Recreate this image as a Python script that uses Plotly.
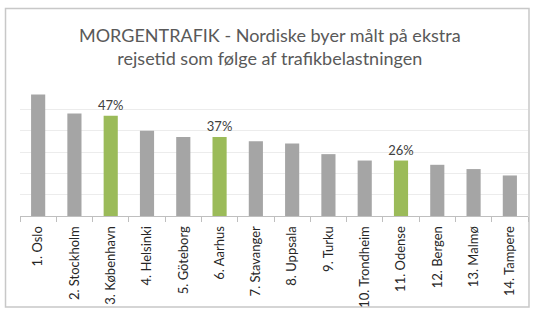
import plotly.graph_objects as go

cities = ["1. Oslo", "2. Stockholm", "3. København", "4. Helsinki", "5. Göteborg",
          "6. Aarhus", "7. Stavanger", "8. Uppsala", "9. Turku", "10. Trondheim",
          "11. Odense", "12. Bergen", "13. Malmø", "14. Tampere"]
values = [57, 48, 47, 40, 37, 37, 35, 34, 29, 26, 26, 24, 22, 19]
danish = [False, False, True, False, False, True, False, False, False, False, True, False, False, False]

GREY = "#a5a5a5"
GREEN = "#9bbb59"

colors = [GREEN if d else GREY for d in danish]
labels = [f"{v}%" if d else "" for v, d in zip(values, danish)]

W, H = 537, 317
L, R, T, B = 20, 8.5, 88, 101
pw, ph = W - L - R, H - T - B

fig = go.Figure(go.Bar(
    x=cities, y=values, marker=dict(color=colors, line=dict(width=0)),
    text=labels, textposition="outside", cliponaxis=False, constraintext="none",
    textfont=dict(family="Lato", size=13, color="#404040"),
    width=0.39, hoverinfo="skip"))

def px_x(p):
    return (p - L) / pw

def px_y(p):
    return (H - B - p) / ph

fig.update_layout(
    width=W, height=H, margin=dict(l=L, r=R, t=T, b=B),
    paper_bgcolor="white", plot_bgcolor="white", showlegend=False,
    annotations=[dict(text="MORGENTRAFIK - Nordiske byer målt på ekstra<br>rejsetid som følge af trafikbelastningen",
                      xref="paper", yref="paper", x=px_x(270), y=px_y(46), xanchor="center",
                      yanchor="middle", showarrow=False, align="center",
                      font=dict(family="Lato", size=18, color="#595959"))],
    xaxis=dict(showline=True, linecolor="#bfbfbf", linewidth=1, ticks="outside",
               tickson="boundaries", ticklen=5, tickcolor="#bfbfbf", tickangle=-90,
               ticklabelstandoff=4,
               tickfont=dict(family="Lato", size=13, color="#262626"), showgrid=False),
    yaxis=dict(range=[0, 60], dtick=10, showgrid=True, gridcolor="#ececec", gridwidth=1,
               showticklabels=False, zeroline=False, showline=False),
    shapes=[dict(type="rect", xref="paper", yref="paper",
                 x0=px_x(5.5), x1=px_x(529.5), y0=px_y(307), y1=px_y(8.5),
                 line=dict(color="#c8c8c8", width=1.5), fillcolor="rgba(0,0,0,0)", layer="below")],
)

fig.write_html("out.html")
